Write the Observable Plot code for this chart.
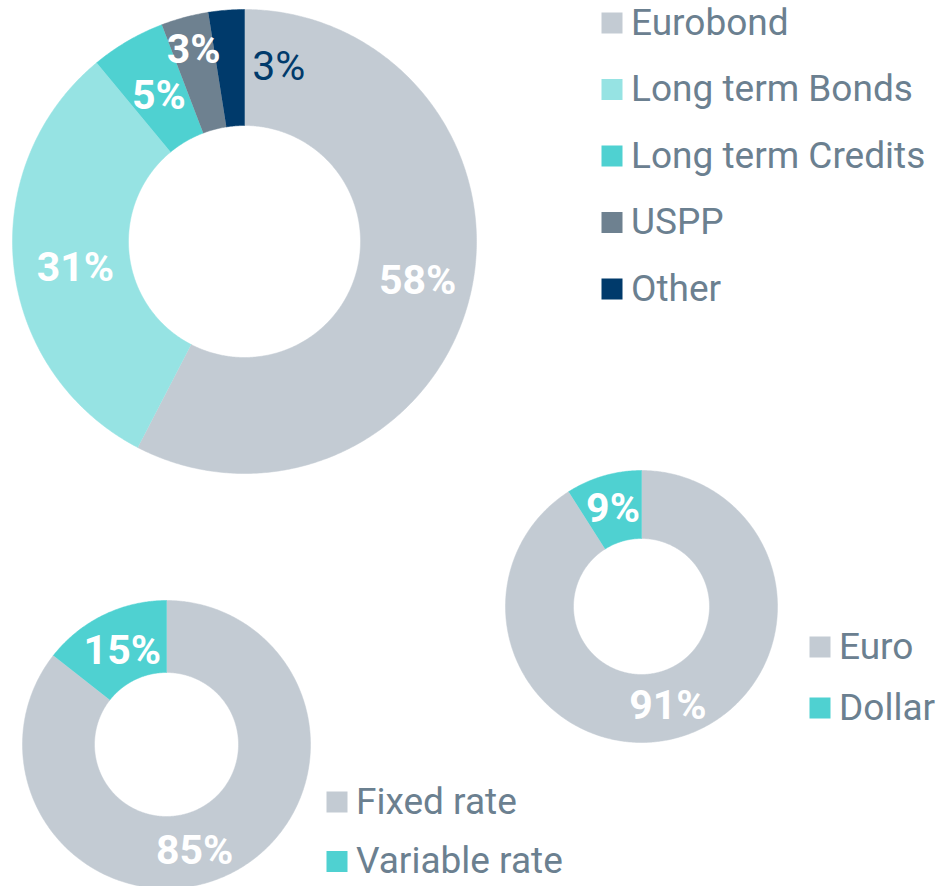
<!DOCTYPE html>
<html><head><meta charset="utf-8">
<script src="https://cdn.jsdelivr.net/npm/d3@7"></script>
<script src="https://cdn.jsdelivr.net/npm/@observablehq/plot@0.6"></script>
<style>html,body{margin:0;padding:0;background:#fff;} #chart{width:936px;height:886px;overflow:hidden;}</style>
</head><body><div id="chart"></div>
<script>
// ---- data ----
const debtTypeCategories = ["Eurobond", "Long term Bonds", "Long term Credits", "USPP", "Other"];
const debtTypeValues = [57.6, 31.4, 5.2, 3.3, 2.5];
const debtTypeLabels = ["58%", "31%", "5%", "3%", "3%"];

const currencyCategories = ["Euro", "Dollar"];
const currencyValues = [91, 9];
const currencyLabels = ["91%", "9%"];

const rateCategories = ["Fixed rate", "Variable rate"];
const rateValues = [85.6, 14.4];
const rateLabels = ["85%", "15%"];

// ---- style / layout ----
const colorDomain = [...debtTypeCategories, ...currencyCategories, ...rateCategories];
const colorRange = ["#c3cbd3", "#96e3e3", "#4fd1d1", "#6e8190", "#003a6b", "#c3cbd3", "#4fd1d1", "#c3cbd3", "#4fd1d1"];
const W = 936, H = 886;
const layouts = [
  {id: "debt", cats: debtTypeCategories, vals: debtTypeValues, labels: debtTypeLabels,
   cx: 244, cy: 241, ro: 232, ri: 116,
   labelShift: [[4, -2], [4, 8], [2, 5], [-6, -24], [48, -1]],
   outside: [false, false, false, false, true],
   legend: {x: 611.5, y: 22.5, step: 66.5}},
  {id: "cur", cats: currencyCategories, vals: currencyValues, labels: currencyLabels,
   cx: 641, cy: 606, ro: 136, ri: 68,
   labelShift: [[-2, 1], [0, 0]], outside: [false, false],
   legend: {x: 819.5, y: 646.5, step: 61}},
  {id: "rate", cats: rateCategories, vals: rateValues, labels: rateLabels,
   cx: 166, cy: 744, ro: 144, ri: 72,
   labelShift: [[-19, 9], [3, 4]], outside: [false, false],
   legend: {x: 336.5, y: 801.5, step: 59.5}}
];

const polyPoints = [];
const labelData = [];
const legendData = [];
for (const L of layouts) {
  const arcs = d3.pie().sort(null).value(d => d)(L.vals);
  arcs.forEach((a, i) => {
    const cat = L.cats[i];
    const key = L.id + "-" + i;
    const n = Math.max(2, Math.ceil((a.endAngle - a.startAngle) / (Math.PI / 360)));
    for (let k = 0; k <= n; k++) {
      const t = a.startAngle + (a.endAngle - a.startAngle) * k / n;
      polyPoints.push({key, cat, x: L.cx + L.ro * Math.sin(t), y: L.cy - L.ro * Math.cos(t)});
    }
    for (let k = n; k >= 0; k--) {
      const t = a.startAngle + (a.endAngle - a.startAngle) * k / n;
      polyPoints.push({key, cat, x: L.cx + L.ri * Math.sin(t), y: L.cy - L.ri * Math.cos(t)});
    }
    const mid = (a.startAngle + a.endAngle) / 2;
    const rm = (L.ro + L.ri) / 2;
    labelData.push({
      text: L.labels[i], outside: L.outside[i],
      x: L.cx + rm * Math.sin(mid) + L.labelShift[i][0],
      y: L.cy - rm * Math.cos(mid) + L.labelShift[i][1]
    });
    legendData.push({cat, x: L.legend.x, tx: L.legend.x + 19, y: L.legend.y + i * L.legend.step});
  });
}

const chart = Plot.plot({
  width: W, height: H, margin: 0,
  x: {domain: [0, W], range: [0, W], axis: null},
  y: {domain: [0, H], range: [0, H], axis: null},
  color: {domain: colorDomain, range: colorRange},
  style: {fontFamily: "Roboto, sans-serif", background: "#fff", overflow: "visible"},
  marks: [
    Plot.line(polyPoints, {x: "x", y: "y", z: "key", fill: "cat", stroke: "cat", strokeWidth: 0.5, curve: "linear"}),
    Plot.text(labelData.filter(d => !d.outside), {x: "x", y: "y", text: "text", fill: "#ffffff", fontSize: 41, fontWeight: "bold"}),
    Plot.text(labelData.filter(d => d.outside), {x: "x", y: "y", text: "text", fill: "#003a6b", fontSize: 41, fontWeight: "normal"}),
    Plot.dot(legendData, {x: "x", y: "y", symbol: "square", fill: "cat", r: 11.85}),
    Plot.text(legendData, {x: "tx", y: "y", text: "cat", textAnchor: "start", fill: "#6b8090", fontSize: 37})
  ]
});
document.getElementById("chart").appendChild(chart);
</script>
</body></html>
